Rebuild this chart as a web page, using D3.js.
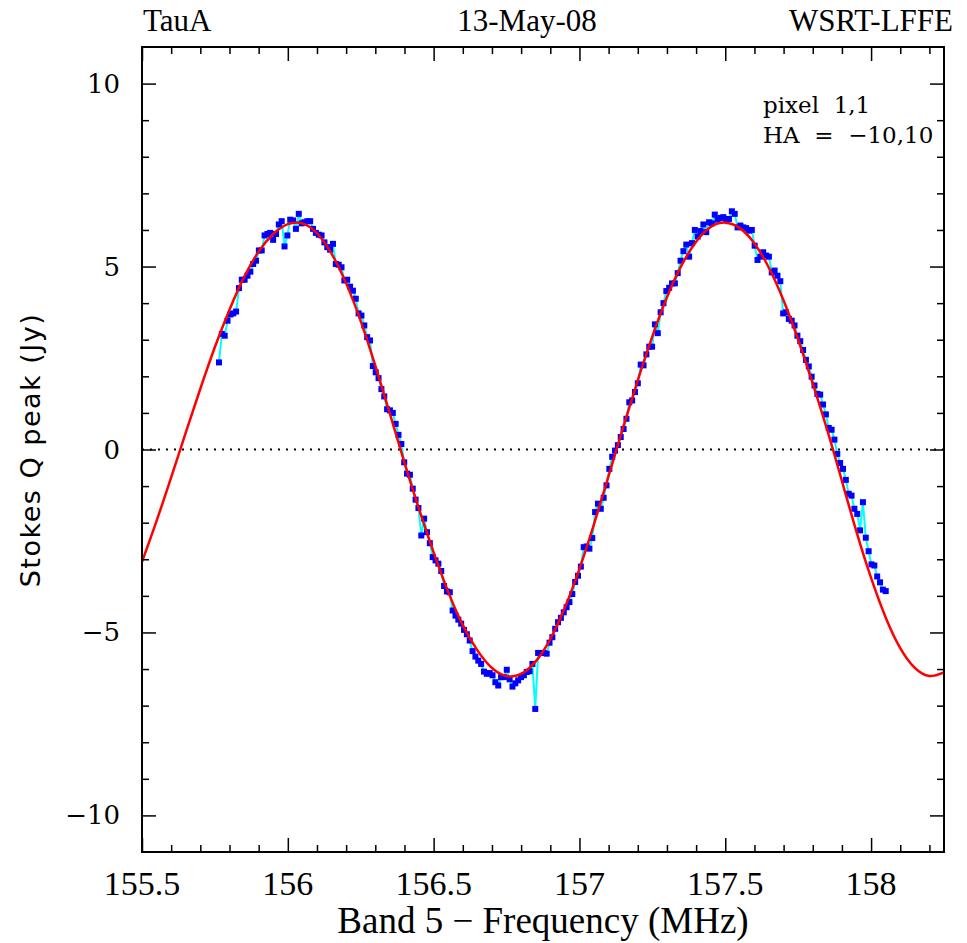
<!DOCTYPE html>
<html>
<head>
<meta charset="utf-8">
<script src="https://cdn.jsdelivr.net/npm/d3@7"></script>
<style>
body { margin: 0; background: #fff; overflow: hidden; }
svg { display: block; }
.tick line { stroke: #000; stroke-width: 1.5; }
</style>
</head>
<body>
<div id="chart"></div>
<script>
// channel grid of the observation (MHz)
var chanStart = 155.764;
var chanWidth = 0.00977;

// measured Stokes Q peak per channel (Jy)
var stokesQ = [
  2.38, 3.16, 3.11, 3.52, 3.69, 3.72, 3.77, 4.41, 4.64, 4.64,
  4.75, 4.86, 5.07, 5.16, 5.44, 5.44, 5.85, 5.89, 5.92, 5.73,
  5.89, 6.15, 6.24, 5.55, 5.85, 6.28, 6.26, 6.03, 6.44, 6.18,
  6.21, 6.24, 6.24, 6.03, 5.92, 5.87, 5.85, 5.66, 5.53, 5.46,
  5.62, 5.07, 5.05, 4.98, 4.62, 4.64, 4.45, 4.34, 4.12, 3.72,
  3.66, 3.39, 3.07, 2.98, 2.28, 2.11, 1.95, 1.65, 1.45, 1.10,
  1.07, 1.00, 0.70, 0.40, 0.15, -0.35, -0.66, -0.69, -1.07, -1.37,
  -1.60, -2.35, -1.89, -2.26, -2.56, -2.94, -3.03, -3.12, -3.32, -3.73,
  -3.88, -3.90, -4.40, -4.54, -4.65, -4.76, -4.93, -5.05, -5.22, -5.51,
  -5.66, -5.77, -5.86, -6.07, -6.13, -6.11, -6.17, -6.36, -6.45, -6.22,
  -6.22, -6.02, -6.28, -6.48, -6.39, -6.31, -6.22, -6.17, -6.08, -6.06,
  -5.86, -7.09, -5.56, -5.56, -5.56, -5.58, -5.28, -5.13, -4.90, -4.72,
  -4.60, -4.45, -4.31, -4.17, -3.95, -3.62, -3.45, -3.20, -2.67, -2.65,
  -2.71, -2.42, -1.71, -1.48, -1.62, -1.32, -0.98, -0.53, -0.20, -0.03,
  0.12, 0.34, 0.56, 0.84, 1.29, 1.34, 1.57, 1.81, 2.32, 2.30,
  2.60, 2.81, 2.81, 3.42, 3.18, 3.75, 4.00, 4.33, 4.42, 4.54,
  4.54, 4.82, 5.16, 5.42, 5.60, 5.27, 5.64, 6.00, 5.82, 5.97,
  6.15, 5.94, 6.21, 6.18, 6.42, 6.28, 6.33, 6.35, 6.30, 6.30,
  6.51, 6.44, 6.07, 6.12, 6.07, 6.05, 5.98, 6.00, 5.57, 5.18,
  5.27, 5.39, 5.30, 5.27, 4.84, 4.89, 4.75, 4.60, 3.72, 3.75,
  3.57, 3.52, 3.39, 3.11, 2.96, 2.72, 2.45, 2.27, 1.99, 1.75,
  1.52, 1.50, 1.23, 0.96, 0.59, 0.54, 0.27, -0.12, -0.37, -0.53,
  -0.83, -1.21, -1.26, -1.62, -1.76, -2.21, -1.44, -2.41, -2.78, -3.14,
  -3.17, -3.47, -3.63, -3.83, -3.87
];

// fitted model, sampled every 0.05 MHz from 155.5
var fitStart = 155.5;
var fitStep = 0.05;
var fitQ = [
  -3.07, -1.95, -0.76, 0.46, 1.66, 2.80, 3.82, 4.71, 5.41, 5.89,
  6.16, 6.18, 5.91, 5.35, 4.54, 3.51, 2.29, 0.98, -0.36, -1.63,
  -2.81, -3.89, -4.80, -5.49, -5.97, -6.19, -6.13, -5.79, -5.18, -4.32,
  -3.26, -2.04, -0.72, 0.61, 1.89, 3.09, 4.16, 5.03, 5.68, 6.08,
  6.20, 6.05, 5.63, 4.96, 4.07, 3.00, 1.80, 0.52, -0.86, -2.25,
  -3.51, -4.59, -5.43, -5.97, -6.19, -6.09
];

var xTicks = [155.5, 156, 156.5, 157, 157.5, 158];
var xTickLabels = ["155.5", "156", "156.5", "157", "157.5", "158"];
var yTicks = [-10, -5, 0, 5, 10];
var yTickLabels = ["\u221210", "\u22125", "0", "5", "10"];

var outerWidth = 967;
var outerHeight = 943;
var margin = { left: 142, top: 47, right: 23, bottom: 91 };
var innerWidth  = outerWidth  - margin.left - margin.right;
var innerHeight = outerHeight - margin.top  - margin.bottom;

var svg = d3.select("#chart").append("svg")
    .attr("width", outerWidth)
    .attr("height", outerHeight);

var g = svg.append("g")
    .attr("transform", "translate(" + margin.left + "," + margin.top + ")");

var x = d3.scaleLinear().domain([155.5, 158.25]).range([0, innerWidth]);
var y = d3.scaleLinear().domain([-11, 11]).range([innerHeight, 0]);

var data = stokesQ.map(function(q, i) {
    return { f: chanStart + i * chanWidth, q: q };
});
var fit = fitQ.map(function(q, i) {
    return { f: fitStart + i * fitStep, q: q };
});

var xMinor = d3.range(155.6, 158.25, 0.1).filter(function(d) {
    return Math.abs(d * 2 - Math.round(d * 2)) > 1e-6;
});
var yMinor = d3.range(-10, 11, 1).filter(function(d) { return d % 5 !== 0; });

// zero line
g.append("line")
    .attr("x1", 0).attr("x2", innerWidth)
    .attr("y1", y(0)).attr("y2", y(0))
    .attr("stroke", "#000")
    .attr("stroke-width", 2)
    .attr("stroke-dasharray", "2,6");

// nested svg keeps the fit curve inside the frame
var plot = g.append("svg")
    .attr("width", innerWidth)
    .attr("height", innerHeight)
    .attr("overflow", "hidden");

var line = d3.line()
    .x(function(d) { return x(d.f); })
    .y(function(d) { return y(d.q); });

plot.append("path")
    .datum(data)
    .attr("d", line)
    .attr("fill", "none")
    .attr("stroke", "#00ffff")
    .attr("stroke-width", 2);

plot.selectAll("rect.pt").data(data).enter().append("rect")
    .attr("class", "pt")
    .attr("x", function(d) { return x(d.f) - 3; })
    .attr("y", function(d) { return y(d.q) - 3; })
    .attr("width", 6)
    .attr("height", 6)
    .attr("fill", "#0000ff");

plot.append("path")
    .datum(fit)
    .attr("d", line.curve(d3.curveNatural))
    .attr("fill", "none")
    .attr("stroke", "#ff0000")
    .attr("stroke-width", 2.5);

// axes, ticks pointing inwards on all four sides (labels added below)
function drawAxis(axis, values, size, transform) {
    var a = g.append("g")
        .attr("transform", transform)
        .call(axis.tickValues(values).tickSize(-size).tickSizeOuter(0));
    a.select(".domain").remove();
    a.selectAll("text").remove();
    return a;
}

var bottom = "translate(0," + innerHeight + ")";
var right = "translate(" + innerWidth + ",0)";
drawAxis(d3.axisBottom(x), xTicks, 14, bottom);
drawAxis(d3.axisBottom(x), xMinor, 7, bottom);
drawAxis(d3.axisTop(x), xTicks, 14, null);
drawAxis(d3.axisTop(x), xMinor, 7, null);
drawAxis(d3.axisLeft(y), yTicks, 14, null);
drawAxis(d3.axisLeft(y), yMinor, 7, null);
drawAxis(d3.axisRight(y), yTicks, 14, right);
drawAxis(d3.axisRight(y), yMinor, 7, right);

g.append("g").selectAll("text").data(xTicks).enter().append("text")
    .attr("x", function(d) { return x(d); })
    .attr("y", innerHeight + 43)
    .attr("text-anchor", "middle")
    .attr("font-family", "Liberation Serif")
    .attr("font-size", 34)
    .attr("fill", "#000")
    .text(function(d, i) { return xTickLabels[i]; });

g.append("g").selectAll("text").data(yTicks).enter().append("text")
    .attr("x", -22)
    .attr("y", function(d) { return y(d) + 9; })
    .attr("text-anchor", "end")
    .attr("font-family", "DejaVu Serif")
    .attr("font-size", 26)
    .attr("fill", "#000")
    .text(function(d, i) { return yTickLabels[i]; });

g.append("rect")
    .attr("width", innerWidth)
    .attr("height", innerHeight)
    .attr("fill", "none")
    .attr("stroke", "#000")
    .attr("stroke-width", 2);

// header
var header = svg.append("g")
    .attr("font-family", "Liberation Serif")
    .attr("font-size", 31)
    .attr("fill", "#000");
header.append("text").attr("x", 143).attr("y", 31).text("TauA");
header.append("text").attr("x", 527).attr("y", 31).attr("text-anchor", "middle").text("13-May-08");
header.append("text").attr("x", 953).attr("y", 31).attr("text-anchor", "end").text("WSRT-LFFE");

// annotation
var note = svg.append("g")
    .attr("font-family", "DejaVu Serif")
    .attr("font-size", 23)
    .attr("fill", "#000");
note.append("text").attr("x", 763).attr("y", 113).attr("xml:space", "preserve").text("pixel  1,1");
note.append("text").attr("x", 763).attr("y", 143).attr("xml:space", "preserve").text("HA  =  \u221210,10");

// axis titles
svg.append("text")
    .attr("x", margin.left + innerWidth / 2)
    .attr("y", 933)
    .attr("text-anchor", "middle")
    .attr("font-family", "Liberation Serif")
    .attr("font-size", 37)
    .attr("fill", "#000")
    .text("Band 5 \u2212 Frequency (MHz)");

svg.append("text")
    .attr("transform", "translate(40,450) rotate(-90)")
    .attr("text-anchor", "middle")
    .attr("font-family", "DejaVu Sans")
    .attr("font-size", 27)
    .attr("letter-spacing", 1.5)
    .attr("fill", "#000")
    .text("Stokes Q peak (Jy)");
</script>
</body>
</html>
